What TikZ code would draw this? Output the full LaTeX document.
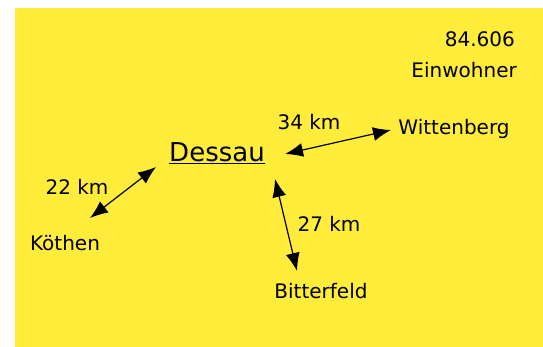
\documentclass[tikz,border=0pt]{standalone}
\usepackage{fontspec}
\setmainfont{DejaVu Sans}
\usetikzlibrary{arrows.meta}
\definecolor{notegelb}{RGB}{255,236,59}
\begin{document}
\begin{tikzpicture}[x=1pt,y=-1pt,
  ort/.style={inner sep=0pt,font=\fontsize{20}{23}\selectfont},
  dist/.style={inner sep=0pt,font=\fontsize{20}{23}\selectfont},
  weg/.style={line width=1.2pt,{Latex[length=18pt,width=14pt]}-{Latex[length=18pt,width=14pt]}}]
  \useasboundingbox (0,0) rectangle (543,347);
  \fill[notegelb] (15,8) rectangle (543,347);
  % Einwohnerzahl
  \node[ort,anchor=east] (zahl) at (515,39) {84.606};
  \node[ort,anchor=east] (einw) at (517,70) {Einwohner};
  % Orte
  \node[inner sep=0pt,font=\fontsize{26}{29}\selectfont] (dessau) at (217,153) {\underline{Dessau}};
  \node[ort] (witt) at (454,129) {Wittenberg};
  \node[ort] (koeth) at (65,243) {Köthen};
  \node[ort] (bitt) at (321,291) {Bitterfeld};
  % Entfernungen
  \coordinate (dO) at (285,154);
  \coordinate (wO) at (391,130);
  \coordinate (dL) at (156,167);
  \coordinate (kO) at (90,218);
  \coordinate (dU) at (275,179);
  \coordinate (bO) at (297,271);
  \draw[weg] (dO) -- (wO);
  \draw[weg] (dL) -- (kO);
  \draw[weg] (dU) -- (bO);
  \node[dist] (d34) at (309,122) {34 km};
  \node[dist] (d22) at (77,187) {22 km};
  \node[dist] (d27) at (329,224) {27 km};
\end{tikzpicture}
\end{document}
